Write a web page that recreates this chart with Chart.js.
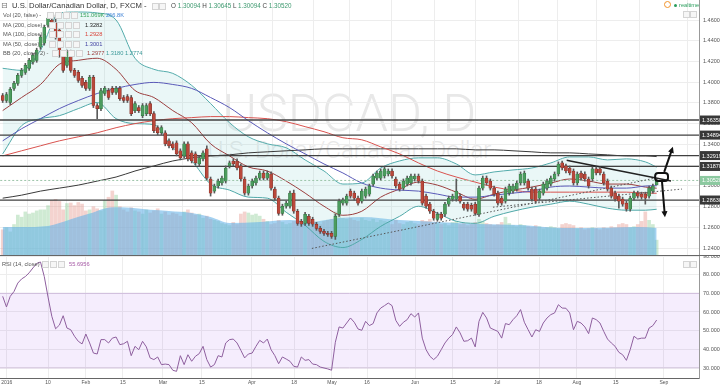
<!DOCTYPE html>
<html>
<head>
<meta charset="utf-8">
<script src="https://cdn.jsdelivr.net/npm/chart.js@4.4.1/dist/chart.umd.min.js"></script>
<style>
  body { margin: 0; background: #fff; font-family: "Liberation Sans", Arial, sans-serif; }
  #wrap { position: relative; width: 720px; height: 387px; overflow: hidden; }
  canvas { position: absolute; left: 0; }
  #main { top: 0; }
  #rsi { top: 256px; }
  .wm { position: absolute; left: 0; width: 699px; text-align: center; font-family: Roboto, "Liberation Sans", sans-serif; font-weight: 300; color: #e8e8e8; white-space: nowrap; }
  .lg { position: absolute; height: 8px; line-height: 8px; font-size: 5.7px; color: #555; white-space: nowrap; }
  .box { position: absolute; width: 5px; height: 5px; border: 1px solid #d4d4d4; background: #f6f6f6; }
  #sep { position: absolute; left: 0; top: 255px; width: 720px; height: 1px; background: #666; }
</style>
</head>
<body>
<div id="wrap">
  <div class="wm" style="top:88px; font-size:52px; line-height:52px;">USDCAD, D</div>
  <div class="wm" style="top:138px; font-size:24px; line-height:24px;">U.S. Dollar/Canadian Dollar</div>

  <canvas id="main" width="720" height="256"></canvas>
  <canvas id="rsi" width="720" height="131"></canvas>
  <div id="sep"></div>

  <div class="lg" style="left:1px; top:2px; font-size:8px; color:#777; font-family:'DejaVu Sans';">⊟</div>
  <div class="lg" style="left:12px; top:2px; font-size:7.7px; color:#333;">U.S. Dollar/Canadian Dollar, D, FXCM -</div>
  <span class="box" style="left:152px; top:3px;"></span><span class="box" style="left:159px; top:3px;"></span>
  <div class="lg" style="left:171px; top:2px; font-size:6.3px; color:#444;">O <span style="color:#3f9a70">1.30094</span> H <span style="color:#3f9a70">1.30645</span> L <span style="color:#3f9a70">1.30094</span> C <span style="color:#3f9a70">1.30520</span></div>

  <div class="lg" style="left:3px; top:11px;">Vol (20, false) -</div>
  <span class="box" style="left:47px; top:12px;"></span><span class="box" style="left:55px; top:12px;"></span><span class="box" style="left:63px; top:12px;"></span><span class="box" style="left:71px; top:12px;"></span>
  <div class="lg" style="left:80px; top:11px; color:#3aa35b;">151.069K <span style="color:#3a7fd5">266.8K</span></div>

  <div class="lg" style="left:3px; top:21px;">MA (200, close) -</div>
  <span class="box" style="left:49px; top:22px;"></span><span class="box" style="left:57px; top:22px;"></span><span class="box" style="left:65px; top:22px;"></span><span class="box" style="left:73px; top:22px;"></span>
  <div class="lg" style="left:85px; top:21px; color:#222;">1.3282</div>

  <div class="lg" style="left:3px; top:30px;">MA (100, close) -</div>
  <span class="box" style="left:49px; top:31px;"></span><span class="box" style="left:57px; top:31px;"></span><span class="box" style="left:65px; top:31px;"></span><span class="box" style="left:73px; top:31px;"></span>
  <div class="lg" style="left:85px; top:30px; color:#d9443a;">1.2928</div>

  <div class="lg" style="left:3px; top:40px;">MA (50, close) -</div>
  <span class="box" style="left:49px; top:41px;"></span><span class="box" style="left:57px; top:41px;"></span><span class="box" style="left:65px; top:41px;"></span><span class="box" style="left:73px; top:41px;"></span>
  <div class="lg" style="left:85px; top:40px; color:#3f3fa0;">1.3001</div>

  <div class="lg" style="left:3px; top:49px;">BB (20, close, 2) -</div>
  <span class="box" style="left:52px; top:50px;"></span><span class="box" style="left:60px; top:50px;"></span><span class="box" style="left:68px; top:50px;"></span><span class="box" style="left:76px; top:50px;"></span>
  <div class="lg" style="left:87px; top:49px; color:#9a3d3d;">1.2977 <span style="color:#3d9a9a">1.3180</span> <span style="color:#3d9a9a">1.2774</span></div>

  <div class="lg" style="left:664px; top:1px; width:7px; height:7px; border:1px solid #f0922b; border-radius:50%; box-sizing:border-box;"></div>
  <div class="lg" style="left:674px; top:4px; width:3px; height:3px; border-radius:50%; background:#2a9d5c;"></div>
  <div class="lg" style="left:679px; top:1px; color:#2a9d5c;">realtime</div>
  <span class="box" style="left:683px; top:11px;"></span><span class="box" style="left:690px; top:11px;"></span>

  <div class="lg" style="left:2px; top:260px;">RSI (14, close)</div>
  <span class="box" style="left:42px; top:261px;"></span><span class="box" style="left:50px; top:261px;"></span><span class="box" style="left:58px; top:261px;"></span>
  <div class="lg" style="left:69px; top:260px; color:#a65aa6;">55.6956</div>
  <span class="box" style="left:683px; top:261px;"></span><span class="box" style="left:690px; top:261px;"></span>
</div>

<script>
// daily candles, 4 Jan - 29 Aug 2016
const opens = [
  1.3872, 1.3823, 1.3804, 1.3940, 1.3988, 1.4066, 1.4095, 1.4134, 1.4192, 1.4211,
  1.4338, 1.4377, 1.4551, 1.4600, 1.4571, 1.4503, 1.4260, 1.4163, 1.4289, 1.4114,
  1.4095, 1.4037, 1.3998, 1.3940, 1.4046, 1.3775, 1.3745, 1.3891, 1.3920, 1.3940,
  1.3901, 1.3940, 1.3852, 1.3862, 1.3852, 1.3726, 1.3755, 1.3677, 1.3697, 1.3794,
  1.3697, 1.3561, 1.3512, 1.3512, 1.3434, 1.3405, 1.3415, 1.3338, 1.3289, 1.3405,
  1.3318, 1.3308, 1.3211, 1.3260, 1.3357, 1.3066, 1.2949, 1.2998, 1.3027, 1.3046,
  1.3192, 1.3240, 1.3240, 1.3192, 1.3066, 1.2930, 1.2998, 1.3027, 1.3075, 1.3124,
  1.3075, 1.3114, 1.2969, 1.2881, 1.2735, 1.2803, 1.2803, 1.2930, 1.2755, 1.2658,
  1.2638, 1.2706, 1.2677, 1.2629, 1.2590, 1.2561, 1.2541, 1.2541, 1.2512, 1.2726,
  1.2833, 1.2833, 1.2949, 1.2930, 1.2881, 1.2852, 1.2901, 1.2920, 1.3017, 1.3075,
  1.3075, 1.3095, 1.3114, 1.3143, 1.3066, 1.3017, 1.2978, 1.3017, 1.3027, 1.3066,
  1.3095, 1.3046, 1.2901, 1.2823, 1.2755, 1.2677, 1.2726, 1.2726, 1.2823, 1.2871,
  1.2871, 1.2901, 1.2823, 1.2823, 1.2813, 1.2823, 1.2726, 1.2978, 1.3075, 1.3046,
  1.2978, 1.2930, 1.2881, 1.2852, 1.2930, 1.2949, 1.2969, 1.3027, 1.3027, 1.3046,
  1.2969, 1.2969, 1.2881, 1.2930, 1.2978, 1.3017, 1.3066, 1.3114, 1.3221, 1.3192,
  1.3172, 1.3143, 1.3027, 1.3124, 1.3114, 1.3066, 1.3066, 1.3163, 1.3163, 1.3114,
  1.3046, 1.2978, 1.2930, 1.2901, 1.2871, 1.2833, 1.2774, 1.2881, 1.2930, 1.2920,
  1.2920, 1.2901, 1.2949, 1.3009
];
const highs = [
  1.3891, 1.3901, 1.3949, 1.4008, 1.4085, 1.4134, 1.4182, 1.4231, 1.4279, 1.4328,
  1.4454, 1.4551, 1.4648, 1.4619, 1.4648, 1.4522, 1.4279, 1.4309, 1.4309, 1.4134,
  1.4114, 1.4056, 1.4017, 1.4066, 1.4066, 1.3794, 1.3940, 1.3959, 1.3940, 1.3959,
  1.3959, 1.3959, 1.3872, 1.3881, 1.3872, 1.3813, 1.3775, 1.3794, 1.3794, 1.3813,
  1.3716, 1.3580, 1.3580, 1.3532, 1.3454, 1.3425, 1.3434, 1.3357, 1.3425, 1.3425,
  1.3338, 1.3328, 1.3289, 1.3338, 1.3386, 1.3085, 1.3017, 1.3066, 1.3095, 1.3192,
  1.3240, 1.3260, 1.3260, 1.3211, 1.3085, 1.3017, 1.3066, 1.3095, 1.3143, 1.3143,
  1.3143, 1.3134, 1.2988, 1.2901, 1.2823, 1.2852, 1.2949, 1.2959, 1.2774, 1.2677,
  1.2745, 1.2726, 1.2697, 1.2648, 1.2609, 1.2580, 1.2561, 1.2561, 1.2726, 1.2871,
  1.2881, 1.2920, 1.2969, 1.2949, 1.2901, 1.2969, 1.2988, 1.3017, 1.3114, 1.3143,
  1.3163, 1.3182, 1.3163, 1.3163, 1.3085, 1.3036, 1.3066, 1.3095, 1.3114, 1.3114,
  1.3114, 1.3066, 1.2920, 1.2842, 1.2774, 1.2745, 1.2745, 1.2842, 1.2901, 1.2920,
  1.3066, 1.2920, 1.2842, 1.2842, 1.2833, 1.2842, 1.2998, 1.3095, 1.3095, 1.3066,
  1.2998, 1.2949, 1.2901, 1.2988, 1.3017, 1.3017, 1.3046, 1.3134, 1.3143, 1.3066,
  1.2988, 1.2988, 1.2969, 1.3036, 1.3066, 1.3095, 1.3134, 1.3231, 1.3240, 1.3211,
  1.3192, 1.3163, 1.3134, 1.3143, 1.3134, 1.3085, 1.3182, 1.3182, 1.3182, 1.3134,
  1.3066, 1.2998, 1.2949, 1.2920, 1.2891, 1.2852, 1.2901, 1.2949, 1.2949, 1.2939,
  1.2939, 1.2998, 1.3017, 1.3065
];
const lows = [
  1.3804, 1.3804, 1.3784, 1.3920, 1.3969, 1.4046, 1.4075, 1.4114, 1.4173, 1.4192,
  1.4318, 1.4357, 1.4532, 1.4551, 1.4415, 1.4241, 1.4095, 1.4143, 1.4095, 1.4046,
  1.3998, 1.3949, 1.3920, 1.3920, 1.3755, 1.3648, 1.3726, 1.3872, 1.3833, 1.3881,
  1.3881, 1.3823, 1.3804, 1.3804, 1.3677, 1.3707, 1.3707, 1.3658, 1.3677, 1.3677,
  1.3512, 1.3493, 1.3493, 1.3386, 1.3367, 1.3347, 1.3289, 1.3250, 1.3270, 1.3240,
  1.3221, 1.3202, 1.3192, 1.3240, 1.3056, 1.2901, 1.2930, 1.2978, 1.3007, 1.3027,
  1.3172, 1.3192, 1.3153, 1.3046, 1.2910, 1.2910, 1.2978, 1.3007, 1.3056, 1.3056,
  1.3056, 1.2959, 1.2862, 1.2716, 1.2716, 1.2784, 1.2784, 1.2735, 1.2619, 1.2609,
  1.2619, 1.2619, 1.2609, 1.2571, 1.2541, 1.2522, 1.2512, 1.2493, 1.2483, 1.2706,
  1.2813, 1.2813, 1.2881, 1.2862, 1.2813, 1.2833, 1.2881, 1.2901, 1.2998, 1.3056,
  1.3056, 1.3075, 1.3095, 1.3075, 1.2978, 1.2949, 1.2959, 1.2998, 1.3007, 1.3046,
  1.3027, 1.2813, 1.2784, 1.2735, 1.2668, 1.2658, 1.2668, 1.2706, 1.2803, 1.2852,
  1.2852, 1.2833, 1.2765, 1.2755, 1.2755, 1.2716, 1.2706, 1.2959, 1.3007, 1.2959,
  1.2901, 1.2813, 1.2813, 1.2833, 1.2910, 1.2930, 1.2949, 1.3007, 1.3007, 1.2959,
  1.2852, 1.2833, 1.2862, 1.2910, 1.2959, 1.2998, 1.3046, 1.3095, 1.3153, 1.3124,
  1.3105, 1.3007, 1.3007, 1.3056, 1.3046, 1.2978, 1.3046, 1.3105, 1.3105, 1.3007,
  1.2949, 1.2881, 1.2852, 1.2784, 1.2803, 1.2755, 1.2755, 1.2862, 1.2881, 1.2871,
  1.2823, 1.2881, 1.2930, 1.3009
];
const closes = [
  1.3823, 1.3881, 1.3930, 1.3988, 1.4066, 1.4114, 1.4163, 1.4211, 1.4260, 1.4309,
  1.4435, 1.4532, 1.4619, 1.4571, 1.4435, 1.4260, 1.4114, 1.4289, 1.4114, 1.4066,
  1.4017, 1.3969, 1.3940, 1.4046, 1.3775, 1.3745, 1.3920, 1.3940, 1.3852, 1.3901,
  1.3940, 1.3842, 1.3823, 1.3823, 1.3697, 1.3794, 1.3726, 1.3775, 1.3775, 1.3697,
  1.3532, 1.3512, 1.3561, 1.3405, 1.3386, 1.3367, 1.3308, 1.3270, 1.3405, 1.3260,
  1.3240, 1.3221, 1.3270, 1.3318, 1.3075, 1.2930, 1.2998, 1.3046, 1.3075, 1.3172,
  1.3221, 1.3211, 1.3172, 1.3066, 1.2930, 1.2998, 1.3046, 1.3075, 1.3124, 1.3075,
  1.3124, 1.2978, 1.2881, 1.2735, 1.2803, 1.2833, 1.2930, 1.2755, 1.2638, 1.2629,
  1.2726, 1.2638, 1.2629, 1.2590, 1.2561, 1.2541, 1.2532, 1.2512, 1.2706, 1.2852,
  1.2862, 1.2901, 1.2901, 1.2881, 1.2833, 1.2949, 1.2969, 1.2998, 1.3095, 1.3124,
  1.3143, 1.3163, 1.3143, 1.3095, 1.2998, 1.2969, 1.3046, 1.3075, 1.3095, 1.3095,
  1.3046, 1.2833, 1.2803, 1.2755, 1.2687, 1.2726, 1.2687, 1.2823, 1.2881, 1.2901,
  1.2949, 1.2852, 1.2784, 1.2774, 1.2774, 1.2735, 1.2978, 1.3075, 1.3027, 1.2978,
  1.2920, 1.2833, 1.2833, 1.2969, 1.2998, 1.2998, 1.3027, 1.3114, 1.3124, 1.2978,
  1.2871, 1.2852, 1.2949, 1.3017, 1.3046, 1.3075, 1.3114, 1.3211, 1.3172, 1.3143,
  1.3124, 1.3027, 1.3114, 1.3075, 1.3066, 1.2998, 1.3163, 1.3124, 1.3124, 1.3027,
  1.2969, 1.2901, 1.2871, 1.2852, 1.2823, 1.2774, 1.2881, 1.2930, 1.2901, 1.2891,
  1.2881, 1.2978, 1.2998, 1.3052
];
// volume in thousands
const volumes = [
  250, 270, 230, 300,
  390, 370, 420, 400, 410, 430, 440, 440,
  480, 530, 540, 520, 440, 500, 505, 480, 510, 495, 430, 440, 470, 450, 430,
  530, 560, 620, 580, 470, 440, 420, 460, 430,
  420, 400, 440, 410, 430, 450, 400, 420, 390, 410,
  400, 380, 420, 440, 410, 390, 400,
  360, 380, 350, 340, 330, 310, 300, 290, 320, 300,
  400, 420, 410, 390, 400, 380, 350,
  330, 300, 310, 340, 320, 300, 310, 330, 300, 290, 310,
  300, 310, 320, 300, 330, 340, 350, 420, 400, 360,
  350, 360, 340, 330, 360, 340, 330, 350, 320, 340,
  330, 320, 300, 340, 310, 300, 320, 330, 310, 300, 340, 330, 350, 320, 310,
  300, 310, 290, 320, 330, 300, 310, 290, 300, 320, 350, 330, 310, 300, 290,
  300, 320, 370, 310, 290, 280, 300, 290, 280, 270, 290, 280, 260, 270, 280,
  270, 260, 300, 310, 300, 290, 260, 270, 250, 260,
  270, 260, 250, 270, 260, 280, 270, 300, 310, 300,
  270, 280, 300, 330, 420, 340, 300, 151
];
const volMaIdx = [0, 5, 12, 18, 23, 29, 34, 39, 44, 50, 55, 60, 68, 76, 81, 89, 95, 105, 115, 126, 137, 148, 160, 168, 173];
const volMa    = [276, 276, 286, 350, 405, 465, 460, 440, 430, 410, 372, 315, 324, 343, 324, 362, 372, 343, 324, 305, 295, 267, 270, 276, 267];

// indicator lines, read every 5 bars
const lineIdx = [0, 5, 10, 15, 20, 25, 30, 35, 40, 45, 50, 55, 60, 65, 70, 75, 80, 85, 90, 95, 100, 105, 110, 115, 120, 125, 130, 135, 140, 145, 150, 155, 160, 165, 170, 173];
const ma200 = [1.2881, 1.2910, 1.2949, 1.2978, 1.3007, 1.3046, 1.3085, 1.3143, 1.3192, 1.3240, 1.3270, 1.3289, 1.3299, 1.3318, 1.3328, 1.3338, 1.3347, 1.3357, 1.3357, 1.3357, 1.3357, 1.3357, 1.3357, 1.3357, 1.3357, 1.3347, 1.3347, 1.3338, 1.3328, 1.3318, 1.3318, 1.3308, 1.3299, 1.3289, 1.3289, 1.3282];
const ma100 = [1.3289, 1.3338, 1.3386, 1.3434, 1.3473, 1.3512, 1.3561, 1.3600, 1.3629, 1.3648, 1.3658, 1.3668, 1.3668, 1.3658, 1.3648, 1.3619, 1.3571, 1.3522, 1.3464, 1.3444, 1.3376, 1.3308, 1.3221, 1.3143, 1.3085, 1.3036, 1.2988, 1.2959, 1.2939, 1.2939, 1.2939, 1.2939, 1.2939, 1.2939, 1.2930, 1.2928];
const ma50  = [1.3434, 1.3551, 1.3648, 1.3745, 1.3823, 1.3891, 1.3940, 1.3978, 1.3998, 1.3978, 1.3940, 1.3852, 1.3755, 1.3629, 1.3512, 1.3405, 1.3308, 1.3211, 1.3124, 1.3027, 1.2978, 1.2959, 1.2949, 1.2920, 1.2891, 1.2891, 1.2910, 1.2930, 1.2949, 1.2988, 1.2998, 1.2988, 1.2978, 1.2978, 1.2998, 1.3001];
const bbUpper = [1.4134, 1.4114, 1.4309, 1.4668, 1.4677, 1.4668, 1.4600, 1.4231, 1.4124, 1.4085, 1.3969, 1.3794, 1.3609, 1.3473, 1.3405, 1.3367, 1.3250, 1.3143, 1.3017, 1.3027, 1.3172, 1.3240, 1.3270, 1.3270, 1.3211, 1.3105, 1.3134, 1.3153, 1.3172, 1.3221, 1.3279, 1.3279, 1.3250, 1.3260, 1.3231, 1.3180];
const bbMid   = [1.3726, 1.3852, 1.3978, 1.4173, 1.4211, 1.4231, 1.4124, 1.3920, 1.3852, 1.3726, 1.3609, 1.3405, 1.3289, 1.3182, 1.3143, 1.3046, 1.2930, 1.2803, 1.2716, 1.2755, 1.2891, 1.2969, 1.3036, 1.3007, 1.2939, 1.2871, 1.2920, 1.2959, 1.2988, 1.3027, 1.3066, 1.3046, 1.3017, 1.3017, 1.2988, 1.2977];
const bbLower = [1.3308, 1.3580, 1.3648, 1.3677, 1.3745, 1.3804, 1.3648, 1.3600, 1.3590, 1.3367, 1.3240, 1.3017, 1.2959, 1.2891, 1.2881, 1.2745, 1.2619, 1.2464, 1.2405, 1.2483, 1.2609, 1.2706, 1.2803, 1.2735, 1.2658, 1.2638, 1.2706, 1.2755, 1.2794, 1.2823, 1.2852, 1.2823, 1.2784, 1.2765, 1.2765, 1.2774];

const rsi = [
  68.4, 62.7, 68.4, 71, 75.5, 77.7, 79, 81, 83.6, 86,
  86.8, 79, 68, 57.7, 51, 53, 58, 51.4, 50.5, 47,
  44.3, 42.9, 48.2, 43.4, 38, 37.5, 45.2, 45.2, 43.4, 46,
  46.6, 42.5, 43, 44.3, 36.6, 41.6, 39.8, 44.3, 41.3, 35.4,
  34.5, 35.9, 31.8, 32.1, 31.8, 28.8, 28.2, 36.6, 31.8, 37.1,
  33.6, 36.3, 37.7, 41.6, 34.5, 30.5, 31.8, 36.6, 35.9, 43.4,
  45.2, 45.5, 43.4, 39.5, 35.4, 37.5, 38, 41.6, 44.8, 43.4,
  45.5, 39.8, 36.6, 32.3, 35.9, 34.8, 33.6, 30.9, 30.5, 35.9,
  34.1, 34.5, 32.1, 31.8, 30.5, 30, 29.5, 28.8, 43.8, 52,
  51.4, 54.1, 56.8, 54.5, 50.9, 50.2, 55, 52.7, 53.8, 59.5,
  62.1, 63.4, 64.8, 63.4, 55.5, 52.3, 54.5, 55.9, 59.1, 57.3,
  59.5, 46, 39.8, 36.3, 34.5, 36.3, 39.8, 43.4, 46, 47.9,
  52, 48.8, 44.3, 44.6, 46, 41.3, 55, 59.8, 56.8, 51.4,
  50.5, 49.6, 46, 53.8, 53.2, 55.9, 58, 61.3, 54.5, 50.5,
  46.6, 50.5, 49.6, 54.1, 56.8, 58.6, 59.5, 63.9, 62.1, 62,
  59.5, 50.5, 55, 54.1, 52, 48.4, 56.8, 55.9, 54.1, 49.6,
  45.5, 43.4, 41.6, 38.4, 37.1, 34.1, 39.8, 47, 45.5, 46,
  46, 51.4, 52.7, 55.7
];
const rsiBands = [70, 30];

// drawn levels and tools
const levels = [1.36350, 1.34894, 1.32919, 1.31870, 1.28630];
const lastPrice = 1.30520;
const trendDown = [[149.2, 1.3247], [176.8, 1.3046]];
const trendUp1 = [[81.8, 1.2396], [172.6, 1.3075]];
const trendUp2 = [[129.7, 1.2794], [179.7, 1.2969]];
const focusBox = [[172.6, 1.3124], [176.0, 1.3046]];
const arrowUp = [[175.0, 1.3134], [177.3, 1.3376]];
const arrowDown = [[174.4, 1.3046], [175.2, 1.2697]];

const xTickIdx = [1.1, 12.0, 22.0, 31.8, 42.4, 52.7, 65.9, 77.1, 87.1, 96.4, 109.1, 119.1, 130.8, 141.9, 151.9, 162.2, 174.9];
const xTickLabels = ['2016', '10', 'Feb', '15', 'Mar', '15', 'Apr', '18', 'May', '16', 'Jun', '15', 'Jul', '18', 'Aug', '15', 'Sep'];
const priceTicks = [1.24, 1.26, 1.28, 1.30, 1.32, 1.34, 1.36, 1.38, 1.40, 1.42, 1.44, 1.46];
const rsiTicks = [30, 40, 50, 60, 70, 80, 90];

const X_MIN = -0.71, X_MAX = 184.2;

Chart.defaults.font.family = '"Liberation Sans", Arial, sans-serif';
Chart.defaults.animation = false;

const idx = closes.map((_, i) => i);
const isUp = idx.map(i => closes[i] >= opens[i]);
const pts = (xs, ys) => xs.map((x, k) => ({ x: x, y: ys[k] }));
const seg = (p) => p.map(([x, y]) => ({ x: x, y: y }));
const flat = (v) => [{ x: X_MIN - 1, y: v }, { x: X_MAX + 1, y: v }];

function line(data, color, extra) {
    return Object.assign({
        type: 'line', data: data, borderColor: color, borderWidth: 1,
        pointRadius: 0, fill: false, cubicInterpolationMode: 'monotone'
    }, extra || {});
}

// keep the plot area flush with the canvas edges
function noPad(s) {
    s.paddingTop = 0; s.paddingBottom = 0; s.paddingLeft = 0; s.paddingRight = 0;
}

const gridColor = '#ededed';

function xScale(showTicks) {
    return {
        type: 'linear', min: X_MIN, max: X_MAX, offset: false,
        afterBuildTicks: s => { s.ticks = xTickIdx.map(v => ({ value: v })); },
        grid: { color: gridColor, drawTicks: false },
        border: { display: showTicks, color: '#666' },
        ticks: {
            display: showTicks, autoSkip: false, maxRotation: 0, minRotation: 0,
            padding: 2, color: '#555', font: { size: 5 },
            callback: (v, i) => xTickLabels[i]
        },
        afterFit: s => { s.height = showTicks ? 9 : 0; noPad(s); }
    };
}

function yScale(min, max, ticks, digits) {
    return {
        position: 'right', min: min, max: max,
        afterBuildTicks: s => { s.ticks = ticks.map(v => ({ value: v })); },
        grid: { color: gridColor, drawTicks: false },
        border: { color: '#999' },
        ticks: { padding: 4, color: '#555', font: { size: 5.5 }, callback: v => v.toFixed(digits) },
        afterFit: s => { s.width = 21; noPad(s); }
    };
}

// drawn tools on the price panel and the level tags on its axis
const drawTools = {
    id: 'drawTools',
    afterDatasetsDraw(chart) {
        const { ctx, scales: { x, y } } = chart;
        ctx.save();
        ctx.strokeStyle = '#111';
        ctx.fillStyle = '#111';
        ctx.lineWidth = 2;
        const bx1 = x.getPixelForValue(focusBox[0][0]), by1 = y.getPixelForValue(focusBox[0][1]);
        const bx2 = x.getPixelForValue(focusBox[1][0]), by2 = y.getPixelForValue(focusBox[1][1]);
        ctx.beginPath();
        ctx.roundRect(bx1, by1, bx2 - bx1, by2 - by1, 3);
        ctx.stroke();
        [arrowUp, arrowDown].forEach(a => {
            const x1 = x.getPixelForValue(a[0][0]), y1 = y.getPixelForValue(a[0][1]);
            const x2 = x.getPixelForValue(a[1][0]), y2 = y.getPixelForValue(a[1][1]);
            const ang = Math.atan2(y2 - y1, x2 - x1);
            ctx.beginPath();
            ctx.moveTo(x1, y1);
            ctx.lineTo(x2 - 3 * Math.cos(ang), y2 - 3 * Math.sin(ang));
            ctx.stroke();
            ctx.beginPath();
            ctx.moveTo(x2, y2);
            ctx.lineTo(x2 - 6 * Math.cos(ang) + 3 * Math.sin(ang), y2 - 6 * Math.sin(ang) - 3 * Math.cos(ang));
            ctx.lineTo(x2 - 6 * Math.cos(ang) - 3 * Math.sin(ang), y2 - 6 * Math.sin(ang) + 3 * Math.cos(ang));
            ctx.closePath();
            ctx.fill();
        });
        ctx.restore();
    },
    afterDraw(chart) {
        const { ctx, chartArea, scales: { y } } = chart;
        ctx.save();
        ctx.font = '5.5px "Liberation Sans", Arial, sans-serif';
        ctx.textBaseline = 'middle';
        const tag = (v, bg) => {
            const py = y.getPixelForValue(v);
            ctx.fillStyle = bg;
            ctx.fillRect(chartArea.right + 1, py - 4.5, 24, 9);
            ctx.fillStyle = '#fff';
            ctx.fillText(v.toFixed(5), chartArea.right + 3, py + 0.5);
        };
        levels.forEach(v => tag(v, '#383838'));
        tag(lastPrice, '#8cc9a0');
        ctx.restore();
    }
};

const datasets = [
    {
        type: 'bar', yAxisID: 'yv', order: 20, barThickness: 3, grouped: false,
        data: pts(idx, volumes),
        backgroundColor: idx.map(i => isUp[i] ? 'rgba(130,200,140,0.38)' : 'rgba(225,140,130,0.38)')
    },
    line(pts(volMaIdx, volMa), 'rgba(0,0,0,0)', {
        yAxisID: 'yv', order: 19, borderWidth: 0, fill: 'origin',
        backgroundColor: 'rgba(105,180,232,0.6)'
    }),
    line(pts(lineIdx, bbUpper), '#4fa8a8', { order: 15 }),
    line(pts(lineIdx, bbLower), '#4fa8a8', { order: 14, fill: '-1', backgroundColor: 'rgba(140,210,210,0.18)' }),
    line(pts(lineIdx, bbMid), '#9b3e3e', { order: 13 }),
    line(pts(lineIdx, ma200), '#3a3a3a', { order: 12 }),
    line(pts(lineIdx, ma100), '#d9534f', { order: 11 }),
    line(pts(lineIdx, ma50), '#5a5ab8', { order: 10 }),
    ...levels.map(v => line(flat(v), '#404040', { order: 9, borderWidth: 1.3 })),
    line(flat(lastPrice), '#9cc4a8', { order: 8, borderDash: [2, 2] }),
    line(seg(trendUp1), '#555', { order: 7, borderDash: [1.5, 2] }),
    line(seg(trendUp2), '#555', { order: 6, borderDash: [1.5, 2] }),
    line(seg(trendDown), '#222', { order: 5, borderWidth: 1.5 }),
    {
        type: 'bar', order: 2, barThickness: 1, grouped: false,
        data: idx.map(i => ({ x: i, y: [lows[i], highs[i]] })),
        backgroundColor: '#5a5a5a'
    },
    {
        type: 'bar', order: 1, barThickness: 3, grouped: false, minBarLength: 1,
        data: idx.map(i => ({ x: i, y: [opens[i], closes[i]] })),
        backgroundColor: idx.map(i => isUp[i] ? '#4c9c5e' : '#b9483b'),
        borderColor: idx.map(i => isUp[i] ? '#2f6e3c' : '#7c2a22'),
        borderWidth: 0.5, borderSkipped: false
    }
];

new Chart(document.getElementById('main'), {
    type: 'bar',
    data: { datasets: datasets },
    options: {
        responsive: false, devicePixelRatio: 1,
        layout: { padding: 0 },
        plugins: { legend: { display: false }, tooltip: { enabled: false } },
        scales: {
            x: xScale(false),
            y: yScale(1.2323, 1.4793, priceTicks, 5),
            yv: { display: false, min: 0, max: 2440 }
        }
    },
    plugins: [drawTools]
});

new Chart(document.getElementById('rsi'), {
    type: 'line',
    data: {
        datasets: [
            line(flat(rsiBands[0]), '#d2c4da', { order: 3 }),
            line(flat(rsiBands[1]), '#d2c4da', { order: 2, fill: '-1', backgroundColor: 'rgba(160,80,240,0.1)' }),
            line(pts(idx, rsi), '#8e5f9e', { order: 1, cubicInterpolationMode: 'default', tension: 0 })
        ]
    },
    options: {
        responsive: false, devicePixelRatio: 1,
        layout: { padding: 0 },
        plugins: { legend: { display: false }, tooltip: { enabled: false } },
        scales: {
            x: xScale(true),
            y: yScale(24.64, 90, rsiTicks, 4)
        }
    }
});
</script>
</body>
</html>
